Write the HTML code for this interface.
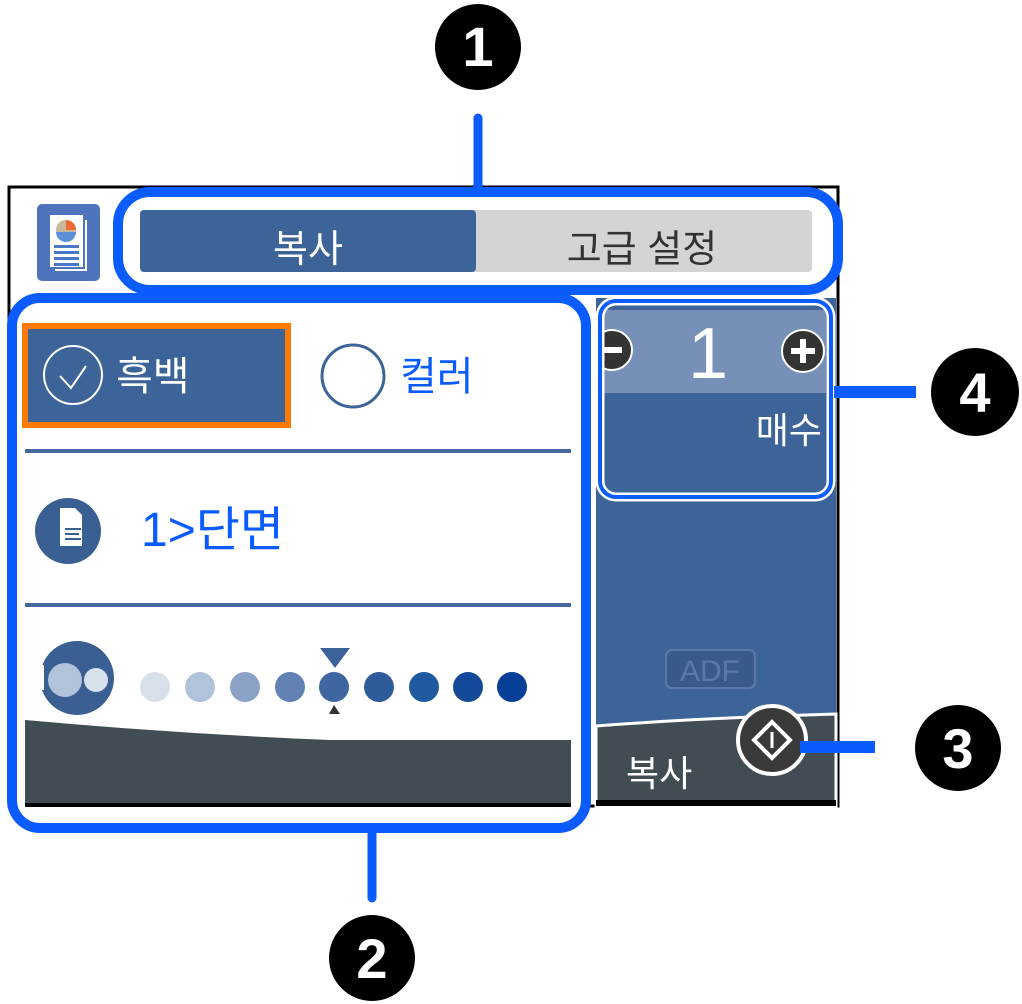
<!DOCTYPE html>
<html><head><meta charset="utf-8"><style>
html,body{margin:0;padding:0;background:#fff;}
svg{display:block;}
text{font-family:"Liberation Sans","Noto Sans CJK KR",sans-serif;}
</style></head><body>
<svg width="1022" height="1004" viewBox="0 0 1022 1004" xmlns="http://www.w3.org/2000/svg">
<defs><clipPath id="cp"><rect x="602" y="300" width="234" height="200"/></clipPath></defs>
<rect x="9" y="187" width="829" height="619" fill="#fff" stroke="#000" stroke-width="3"/>
<rect x="596" y="298" width="240" height="508" fill="#3d6499"/>
<rect x="602" y="310" width="224" height="83" fill="#7690b8"/>
<path d="M596 726 Q700 718 836 714 L836 806 L596 806 Z" fill="#424c53" stroke="#fff" stroke-width="3"/>
<rect x="596" y="800" width="240" height="6" fill="#000"/>
<rect x="666" y="650" width="89" height="38" rx="6" fill="#3a5a8a" stroke="#5a78a8" stroke-width="2"/>
<text x="710" y="681" font-size="30" fill="#5a78a8" text-anchor="middle">ADF</text>
<text x="626" y="786" font-size="36" fill="#fff">복사</text>
<circle cx="772" cy="740" r="34" fill="#3a3a3a" stroke="#fff" stroke-width="4"/>
<path d="M772 722 L790 740 L772 758 L754 740 Z" fill="none" stroke="#fff" stroke-width="4"/>
<line x1="772" y1="732" x2="772" y2="748" stroke="#fff" stroke-width="3"/>
<g clip-path="url(#cp)">
<circle cx="612" cy="350" r="20" fill="#333" stroke="#fff" stroke-width="2"/>
<rect x="600" y="347" width="22" height="6" fill="#fff"/>
</g>
<circle cx="803" cy="351" r="21" fill="#333" stroke="#fff" stroke-width="2"/>
<rect x="791" y="348" width="24" height="6" fill="#fff"/><rect x="800" y="339" width="6" height="24" fill="#fff"/>
<text x="708" y="378" font-size="72" fill="#fff" text-anchor="middle">1</text>
<text x="822" y="443" font-size="36" fill="#fff" text-anchor="end">매수</text>
<rect x="600" y="301" width="231" height="196" rx="16" fill="none" stroke="#fff" stroke-width="9"/>
<rect x="600" y="301" width="231" height="196" rx="16" fill="none" stroke="#0a5cff" stroke-width="4"/>
<rect x="37" y="204" width="63" height="77" rx="5" fill="#4e75bb"/>
<rect x="50" y="215" width="33" height="52" fill="#fff"/>
<polyline points="86,220 86,270 55,270" fill="none" stroke="#fff" stroke-width="2"/>
<circle cx="66" cy="230" r="10" fill="#c8b89a"/>
<path d="M66 220 A10 10 0 0 1 76 230 L66 230Z" fill="#ec6a34"/>
<path d="M56 232 A10 10 0 0 0 76 232 Z" fill="#5b8fd8"/>
<g fill="#4a78c8"><rect x="54" y="245" width="25" height="3"/><rect x="54" y="251" width="25" height="3"/><rect x="54" y="257" width="25" height="3"/><rect x="54" y="263" width="25" height="3"/></g>
<rect x="118" y="192" width="720" height="98" rx="32" fill="#fff" stroke="#0a5cff" stroke-width="10"/>
<rect x="140" y="210" width="672" height="62" rx="4" fill="#d4d4d4"/>
<rect x="140" y="210" width="336" height="62" rx="4" fill="#3d6499"/>
<text x="308" y="262" font-size="38" fill="#fff" text-anchor="middle">복사</text>
<text x="642" y="262" font-size="38" fill="#333" text-anchor="middle">고급 설정</text>
<line x1="478" y1="118" x2="478" y2="192" stroke="#0a5cff" stroke-width="9" stroke-linecap="round"/>
<circle cx="478" cy="47" r="43" fill="#000"/>
<text x="478" y="66" font-size="56" font-weight="bold" fill="#fff" text-anchor="middle">1</text>
<rect x="12" y="298" width="574" height="530" rx="28" fill="#fff" stroke="#0a5cff" stroke-width="10"/>
<rect x="25" y="326" width="263" height="99" fill="#3d6499" stroke="#ff7a00" stroke-width="6"/>
<circle cx="73" cy="375" r="29" fill="none" stroke="#fff" stroke-width="2"/>
<polyline points="60,376 71,388 86,366" fill="none" stroke="#fff" stroke-width="2"/>
<text x="116" y="390" font-size="40" fill="#fff">흑백</text>
<circle cx="353" cy="376" r="31" fill="none" stroke="#3d6499" stroke-width="3"/>
<text x="400" y="390" font-size="40" fill="#0a5cff">컬러</text>
<rect x="25" y="449" width="546" height="4" fill="#44689c"/>
<rect x="25" y="603" width="546" height="4" fill="#44689c"/>
<circle cx="68" cy="531" r="33" fill="#3a5f92"/>
<path d="M60 508 L75 508 L82 515 L82 546 L60 546 Z" fill="#fff"/>
<g fill="#3a5f92"><rect x="65" y="528" width="16" height="2"/><rect x="65" y="533" width="14" height="2"/><rect x="65" y="538" width="16" height="2"/></g>
<text x="141" y="546" font-size="48" fill="#0a5cff">1&gt;단면</text>
<circle cx="77" cy="678" r="37" fill="#3a5f92"/>
<rect x="36" y="665" width="8" height="25" fill="#fff"/>
<circle cx="65" cy="680" r="17" fill="#b2c2da"/>
<circle cx="96" cy="680" r="12" fill="#d8e0ec"/>
<g>
<circle cx="155" cy="687" r="15" fill="#d8e0ec"/>
<circle cx="200" cy="687" r="15" fill="#b2c2da"/>
<circle cx="245" cy="687" r="15" fill="#8aa2c6"/>
<circle cx="290" cy="687" r="15" fill="#6182b3"/>
<circle cx="334" cy="687" r="15" fill="#3f66a0"/>
<circle cx="379" cy="687" r="15" fill="#2e5c9b"/>
<circle cx="424" cy="687" r="15" fill="#1f5a9e"/>
<circle cx="468" cy="687" r="15" fill="#144898"/>
<circle cx="512" cy="687" r="15" fill="#053f98"/>
</g>
<path d="M320 648 L350 648 L335 668 Z" fill="#3d6499"/>
<path d="M329 714 L340 714 L334 705 Z" fill="#333"/>
<path d="M25 720 Q180 734 330 740 L571 740 L571 806 L25 806 Z" fill="#424c53"/>
<rect x="25" y="803" width="546" height="4" fill="#000"/>
<line x1="372" y1="830" x2="372" y2="898" stroke="#0a5cff" stroke-width="9" stroke-linecap="round"/>
<circle cx="372" cy="958" r="43" fill="#000"/>
<text x="372" y="978" font-size="56" font-weight="bold" fill="#fff" text-anchor="middle">2</text>
<line x1="800" y1="747" x2="875" y2="747" stroke="#0a5cff" stroke-width="12"/>
<circle cx="958" cy="748" r="43" fill="#000"/>
<text x="958" y="768" font-size="56" font-weight="bold" fill="#fff" text-anchor="middle">3</text>
<line x1="834" y1="392" x2="916" y2="392" stroke="#0a5cff" stroke-width="12"/>
<circle cx="975" cy="392" r="44" fill="#000"/>
<text x="975" y="412" font-size="56" font-weight="bold" fill="#fff" text-anchor="middle">4</text>
</svg>
</body></html>
